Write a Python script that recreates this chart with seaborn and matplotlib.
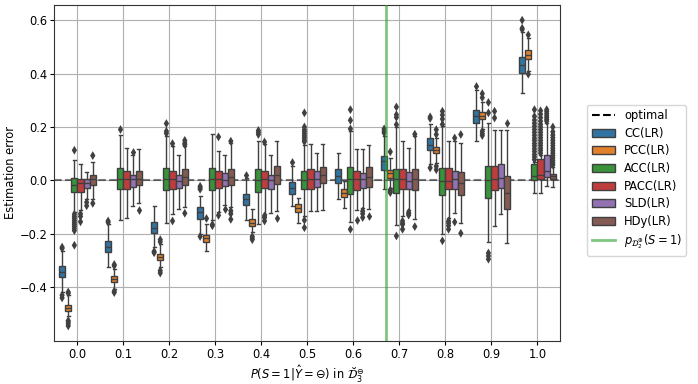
import numpy as np
import pandas as pd
import matplotlib
matplotlib.use("Agg")
import matplotlib.pyplot as plt
from matplotlib.lines import Line2D
from matplotlib.patches import Patch
import seaborn as sns

# x categories and methods
x_labels = ["0.0", "0.1", "0.2", "0.3", "0.4", "0.5", "0.6", "0.7", "0.8", "0.9", "1.0"]
methods = ["CC(LR)", "PCC(LR)", "ACC(LR)", "PACC(LR)", "SLD(LR)", "HDy(LR)"]

# box summaries: (whisker low, q1, median, q3, whisker high)
cc_stats = [(-0.419, -0.363, -0.342, -0.321, -0.264), (-0.323, -0.270, -0.248, -0.226, -0.165),
            (-0.251, -0.198, -0.177, -0.154, -0.096), (-0.200, -0.143, -0.120, -0.100, -0.060),
            (-0.150, -0.092, -0.071, -0.052, 0.008), (-0.096, -0.052, -0.030, -0.006, 0.055),
            (-0.071, -0.009, 0.016, 0.041, 0.101), (-0.031, 0.038, 0.072, 0.093, 0.165),
            (0.062, 0.113, 0.134, 0.159, 0.213), (0.147, 0.215, 0.240, 0.265, 0.337),
            (0.329, 0.402, 0.433, 0.464, 0.555)]
pcc_stats = [(-0.506, -0.490, -0.478, -0.465, -0.428), (-0.405, -0.382, -0.369, -0.357, -0.330),
             (-0.326, -0.299, -0.286, -0.274, -0.239), (-0.264, -0.229, -0.216, -0.204, -0.165),
             (-0.195, -0.170, -0.158, -0.146, -0.108), (-0.158, -0.118, -0.104, -0.090, -0.065),
             (-0.102, -0.061, -0.046, -0.031, -0.003), (-0.028, 0.010, 0.026, 0.038, 0.085),
             (0.066, 0.101, 0.113, 0.126, 0.159), (0.193, 0.230, 0.243, 0.256, 0.295),
             (0.408, 0.455, 0.470, 0.489, 0.535)]
acc_stats = [(-0.118, -0.044, -0.017, 0.010, 0.078), (-0.148, -0.034, 0.006, 0.047, 0.170),
             (-0.160, -0.037, 0.006, 0.047, 0.165), (-0.150, -0.036, 0.006, 0.047, 0.172),
             (-0.165, -0.042, 0.000, 0.041, 0.149), (-0.133, -0.034, 0.000, 0.035, 0.134),
             (-0.156, -0.050, 0.004, 0.051, 0.184), (-0.168, -0.049, 0.004, 0.044, 0.200),
             (-0.201, -0.056, -0.003, 0.047, 0.203), (-0.232, -0.065, 0.000, 0.053, 0.215),
             (-0.046, 0.000, 0.016, 0.062, 0.070)]
pacc_stats = [(-0.111, -0.042, -0.009, 0.004, 0.063), (-0.139, -0.034, 0.004, 0.035, 0.122),
              (-0.127, -0.031, 0.004, 0.035, 0.130), (-0.118, -0.027, 0.004, 0.035, 0.109),
              (-0.124, -0.030, 0.004, 0.035, 0.135), (-0.115, -0.034, 0.004, 0.041, 0.137),
              (-0.112, -0.035, 0.004, 0.037, 0.116), (-0.135, -0.034, 0.004, 0.041, 0.149),
              (-0.139, -0.034, -0.003, 0.045, 0.147), (-0.170, -0.037, 0.004, 0.053, 0.190),
              (-0.046, 0.004, 0.022, 0.082, 0.095)]
sld_stats = [(-0.068, -0.027, -0.009, 0.004, 0.032), (-0.096, -0.025, 0.004, 0.022, 0.097),
             (-0.106, -0.027, -0.003, 0.022, 0.097), (-0.093, -0.021, 0.001, 0.029, 0.097),
             (-0.121, -0.034, 0.000, 0.022, 0.097), (-0.115, -0.025, 0.007, 0.035, 0.103),
             (-0.102, -0.027, 0.004, 0.029, 0.118), (-0.112, -0.031, -0.003, 0.031, 0.122),
             (-0.121, -0.031, 0.004, 0.035, 0.147), (-0.124, -0.027, 0.010, 0.063, 0.190),
             (-0.021, 0.012, 0.035, 0.094, 0.215)]
hdy_stats = [(-0.071, -0.017, 0.004, 0.022, 0.070), (-0.086, -0.019, 0.006, 0.035, 0.116),
             (-0.098, -0.017, 0.014, 0.041, 0.128), (-0.098, -0.019, 0.014, 0.044, 0.141),
             (-0.115, -0.015, 0.019, 0.053, 0.147), (-0.111, -0.011, 0.020, 0.051, 0.138),
             (-0.108, -0.024, 0.014, 0.051, 0.132), (-0.143, -0.036, 0.004, 0.044, 0.165),
             (-0.160, -0.055, -0.009, 0.032, 0.141), (-0.235, -0.106, -0.046, 0.016, 0.190),
             (-0.025, 0.004, 0.016, 0.025, 0.050)]

# outliers per x category
cc_out = [[-0.250, -0.255, -0.430, -0.440], [-0.152, -0.157], [-0.266, -0.271],
          [-0.022, -0.028, -0.033, -0.210], [0.020], [0.068], [], [0.178, 0.185, 0.193],
          [0.232, 0.238, 0.047], [0.354], [0.565, 0.570, 0.600]]
pcc_out = [[-0.418, -0.423, -0.525, -0.530, -0.537, -0.545], [-0.315, -0.320, -0.415, -0.420],
           [-0.222, -0.230, -0.338, -0.347], [-0.142], [-0.210, -0.216, -0.222], [], [],
           [0.107, -0.036, -0.041, -0.046], [0.172, 0.190, 0.053, 0.040],
           [0.310, 0.325, 0.184, 0.175, 0.168], [0.545, 0.398]]
acc_out = [[0.113, -0.127, -0.135, -0.142, -0.150, -0.158, -0.165, -0.172, -0.180, -0.188, -0.243],
           [0.193], [0.176, 0.184, 0.213], [-0.165, -0.170], [0.172, 0.180, 0.187],
           [0.145, 0.152, 0.160, 0.167, 0.175, 0.183, 0.190, 0.200, 0.253, -0.149, -0.177],
           [0.193, 0.225, 0.265, -0.183], [0.209, 0.236, 0.246, 0.275, -0.208],
           [0.210, 0.230, 0.245, 0.259, -0.226], [0.253, 0.292, -0.272, -0.283, -0.295],
           [0.078, 0.088, 0.097, 0.108, 0.118, 0.129, 0.138, 0.149, 0.158, 0.169, 0.180,
            0.191, 0.203, 0.214, 0.226, 0.240, 0.265]]
pacc_out = [[-0.125, -0.135, -0.155], [], [0.138, -0.152], [0.163, -0.131],
            [0.144, -0.133, -0.140, -0.152], [], [-0.148], [-0.152, -0.160, -0.165, -0.183],
            [-0.152, -0.160, -0.170, -0.183], [0.234, 0.259],
            [0.102, 0.112, 0.121, 0.131, 0.140, 0.150, 0.160, 0.170, 0.180, 0.190, 0.200,
             0.210, 0.222, 0.235, 0.248, 0.261]]
sld_out = [[-0.082, -0.095], [0.107], [], [-0.108], [], [], [-0.115, -0.125, -0.139],
           [-0.120, -0.125, -0.130], [0.159, -0.156], [],
           [0.222, 0.228, 0.235, 0.242, 0.250, 0.258, 0.265]]
hdy_out = [[0.093, -0.086], [-0.111], [0.134, 0.140, 0.150, -0.123], [0.147, -0.114, -0.125, -0.146],
           [-0.139], [], [-0.133], [0.173, -0.173], [0.172, -0.198], [0.215],
           [0.058, 0.066, 0.075, 0.084, 0.093, 0.102, 0.111, 0.120, 0.130, 0.140, 0.150,
            0.160, 0.170, 0.182, 0.200]]

optimal = 0.0
p_train = 0.671   # p_D2(S=1)

all_stats = [cc_stats, pcc_stats, acc_stats, pacc_stats, sld_stats, hdy_stats]
all_out = [cc_out, pcc_out, acc_out, pacc_out, sld_out, hdy_out]

# rebuild samples that reproduce each five-number summary (whiskers at min/max)
rows = []
for m, stats in zip(methods, all_stats):
    for xl, (lo, q1, med, q3, hi) in zip(x_labels, stats):
        vals = [lo] + [q1] * 4 + [med] * 4 + [q3] * 4 + [hi]
        rows += [(xl, m, v) for v in vals]
box_df = pd.DataFrame(rows, columns=["x", "method", "error"])

rows = []
for m, outs in zip(methods, all_out):
    for xl, vals in zip(x_labels, outs):
        rows += [(xl, m, v) for v in vals]
out_df = pd.DataFrame(rows, columns=["x", "method", "error"])

plt.rcParams["font.size"] = 8.3
colors = sns.color_palette("tab10", len(methods), desat=0.75)

fig = plt.figure(figsize=(6.98, 3.84), dpi=100)
ax = fig.add_axes([0.078, 0.113, 0.725, 0.874])

ax.axhline(optimal, color="black", ls="--", lw=1.5, alpha=0.5, zorder=1)
sns.boxplot(data=box_df, x="x", y="error", hue="method", order=x_labels, hue_order=methods,
            palette=colors, saturation=1, whis=(0, 100), showfliers=False,
            linewidth=1, linecolor="#3f3f3f", ax=ax, legend=False)
sns.stripplot(data=out_df, x="x", y="error", hue="method", order=x_labels, hue_order=methods,
              palette=["#404040"] * len(methods), dodge=True, jitter=False, marker="d",
              size=4.5, ax=ax, legend=False, zorder=3)
ax.axvline(p_train / 0.1, color="tab:green", lw=2, alpha=0.6, zorder=4)

# seaborn switches the categorical grid off; the reference keeps it
ax.grid(True, axis="both", color="#b0b0b0", lw=0.8)
ax.set_axisbelow(True)

ax.set_xlim(-0.5, len(x_labels) - 0.5)
ax.set_ylim(-0.6, 0.657)
ax.set_yticks([-0.4, -0.2, 0.0, 0.2, 0.4, 0.6])
ax.tick_params(length=3, pad=2)
ax.set_xlabel(r"$P(S=1|\hat{Y}=\ominus)$ in $\breve{\mathcal{D}}_3^{\ominus}$", labelpad=2)
ax.set_ylabel("Estimation error", labelpad=2)
for s in ax.spines.values():
    s.set_color("#333333")

handles = [Line2D([0], [0], color="black", ls="--", lw=1.5, label="optimal")]
handles += [Patch(facecolor=c, edgecolor="#3f3f3f", label=m) for c, m in zip(colors, methods)]
handles.append(Line2D([0], [0], color="tab:green", lw=2, alpha=0.6,
                      label=r"$p_{\mathcal{D}_2^{\oplus}}(S=1)$"))
fig.legend(handles=handles, loc="center left", bbox_to_anchor=(0.841, 0.531), borderaxespad=0,
           labelspacing=0.4)

fig.savefig("out.png", dpi=100)
